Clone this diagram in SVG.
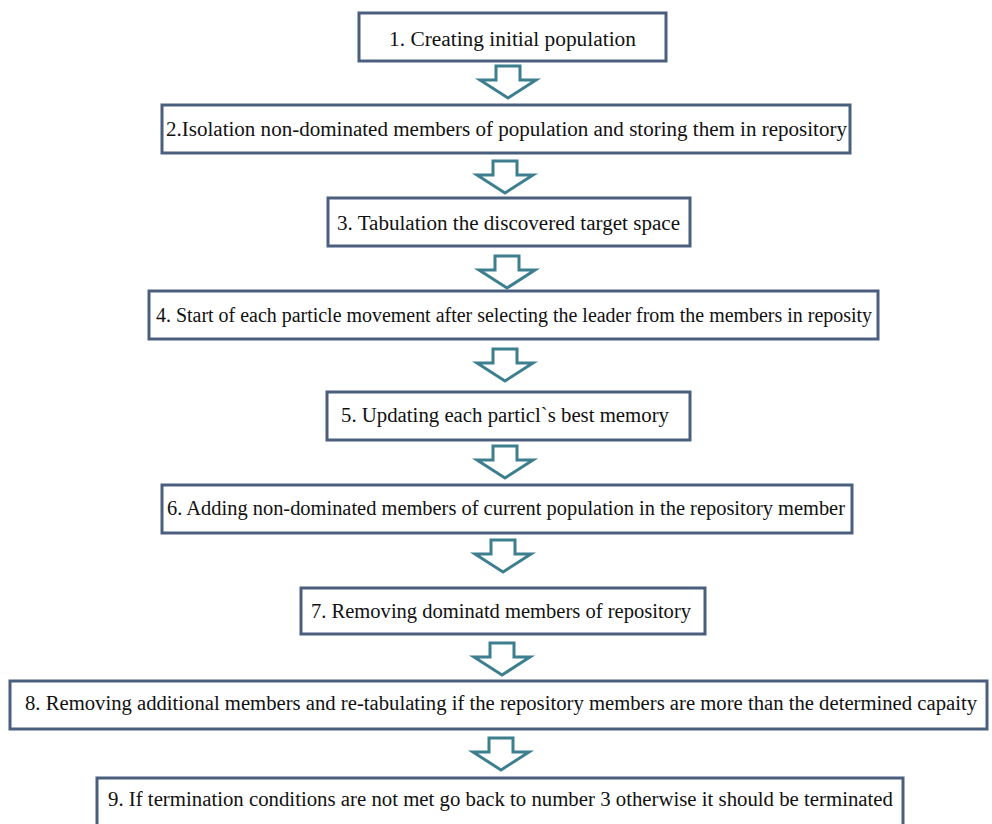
<svg xmlns="http://www.w3.org/2000/svg" width="992" height="824" viewBox="0 0 992 824">
<style>
.box{fill:#fff;stroke:#4a5f7e;stroke-width:3}
.t{font-family:"Liberation Serif","Times New Roman",serif;font-size:20px;fill:#111;text-anchor:middle}
.ar{fill:#fff;stroke:#3d7f8f;stroke-width:3;stroke-linejoin:miter}
</style>
<defs>
<path id="arr" d="M-12,0 H12 V14 H28 L0,32 L-28,14 H-12 Z"/>
</defs>
<rect width="992" height="824" fill="#fff"/>
<g id="connectors">
<use href="#arr" class="ar" x="508" y="66"/>
<use href="#arr" class="ar" x="505" y="161"/>
<use href="#arr" class="ar" x="507" y="256"/>
<use href="#arr" class="ar" x="505" y="349"/>
<use href="#arr" class="ar" x="505" y="446"/>
<use href="#arr" class="ar" x="503" y="540"/>
<use href="#arr" class="ar" x="502" y="643"/>
<use href="#arr" class="ar" x="501" y="738"/>
</g>
<g id="n1"><rect class="box" x="359" y="13" width="307" height="48"/><text class="t" x="512.5" y="46" textLength="247" lengthAdjust="spacingAndGlyphs">1. Creating initial population</text></g>
<g id="n2"><rect class="box" x="162" y="105" width="688" height="48"/><text class="t" x="506.5" y="136" textLength="681" lengthAdjust="spacingAndGlyphs">2.Isolation non-dominated members of population and storing them in repository</text></g>
<g id="n3"><rect class="box" x="328" y="198" width="362" height="48"/><text class="t" x="508.5" y="230" textLength="343" lengthAdjust="spacingAndGlyphs">3. Tabulation the discovered target space</text></g>
<g id="n4"><rect class="box" x="149" y="291" width="729" height="48"/><text class="t" x="514" y="322" textLength="716" lengthAdjust="spacingAndGlyphs">4. Start of each particle movement after selecting the leader from the members in reposity</text></g>
<g id="n5"><rect class="box" x="327" y="392" width="363" height="48"/><text class="t" x="505" y="422" textLength="328" lengthAdjust="spacingAndGlyphs">5. Updating each particl`s best memory</text></g>
<g id="n6"><rect class="box" x="162" y="485" width="690" height="48"/><text class="t" x="506" y="515" textLength="678" lengthAdjust="spacingAndGlyphs">6. Adding non-dominated members of current population in the repository member</text></g>
<g id="n7"><rect class="box" x="301" y="588" width="404" height="46"/><text class="t" x="501" y="618" textLength="380" lengthAdjust="spacingAndGlyphs">7. Removing dominatd members of repository</text></g>
<g id="n8"><rect class="box" x="10" y="681" width="977" height="48"/><text class="t" x="501" y="710" textLength="952" lengthAdjust="spacingAndGlyphs">8. Removing additional members and re-tabulating if the repository members are more than the determined capaity</text></g>
<g id="n9"><rect class="box" x="97" y="778" width="806" height="48"/><text class="t" x="500.5" y="806" textLength="785" lengthAdjust="spacingAndGlyphs">9. If termination conditions are not met go back to number 3 otherwise it should be terminated</text></g>
</svg>
